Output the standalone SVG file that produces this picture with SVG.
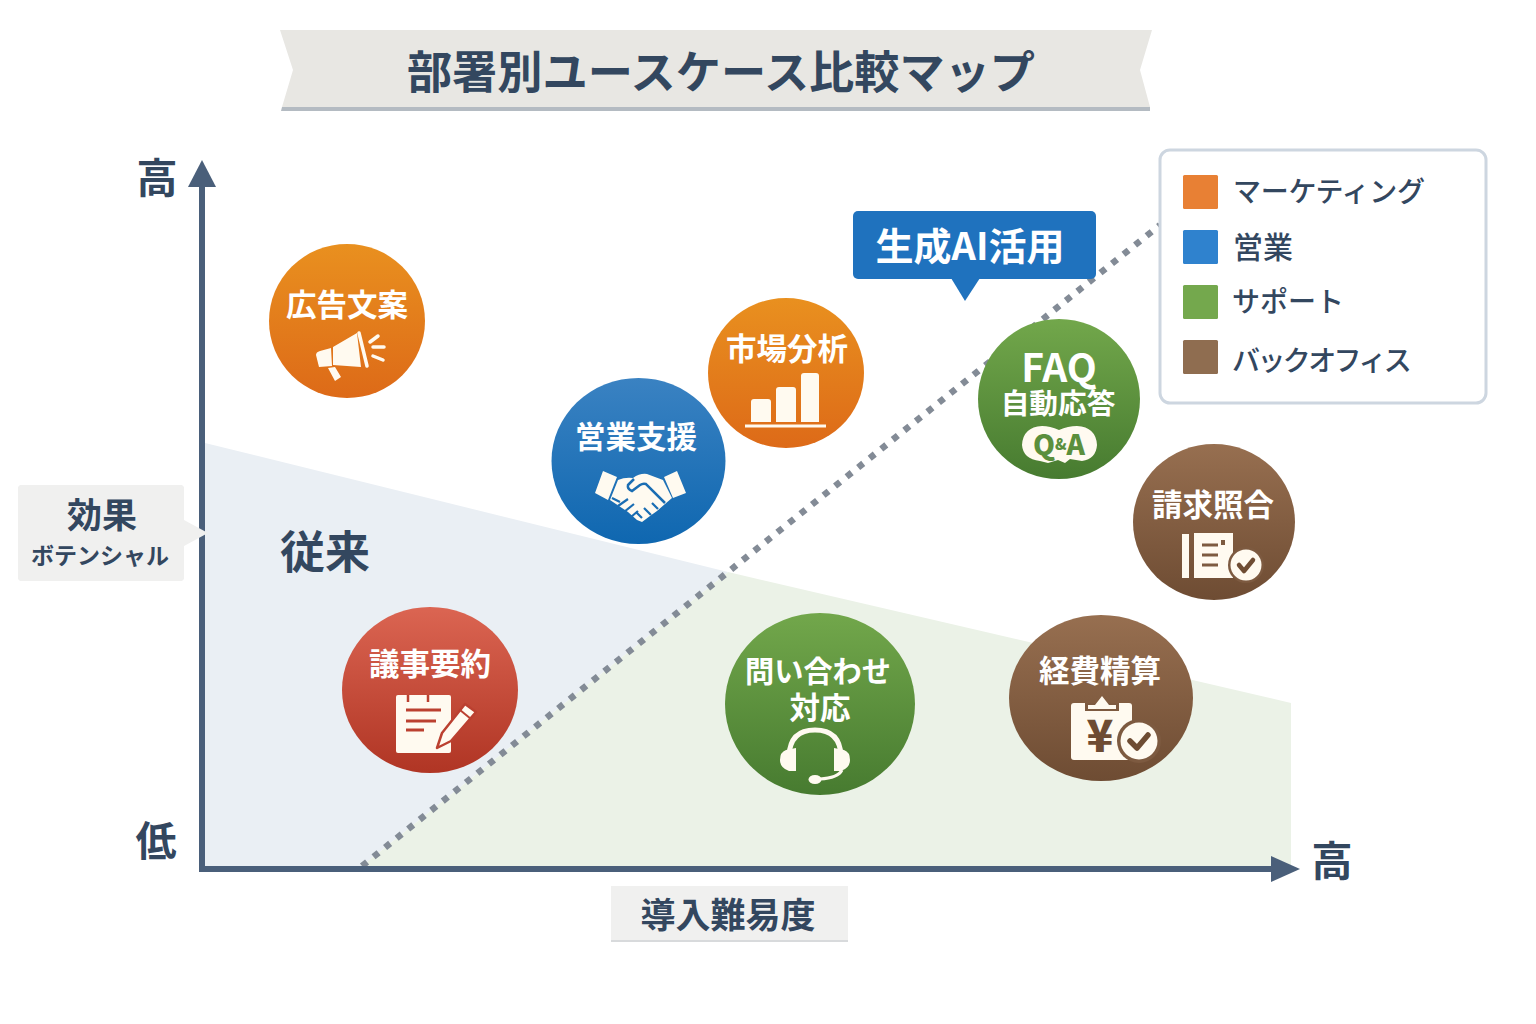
<svg xmlns="http://www.w3.org/2000/svg" width="1536" height="1024" viewBox="0 0 1536 1024">
<style>
text{font-family:"Noto Sans CJK JP","Noto Sans",sans-serif;text-anchor:middle;dominant-baseline:central}
.d{fill:#33475f;font-weight:700}
.w{fill:#fff;font-weight:700;font-size:30.500px}
.lg{fill:#33475f;font-weight:500;font-size:28px;text-anchor:start}
.ic{fill:#fffaf0}
.ax{stroke:#4a5f7a;stroke-width:6;fill:none}
</style>
<defs>
<linearGradient id="go" x1="0" y1="0" x2="0" y2="1"><stop offset="0" stop-color="#e9901f"/><stop offset="1" stop-color="#dd6a18"/></linearGradient>
<linearGradient id="gb" x1="0" y1="0" x2="0" y2="1"><stop offset="0" stop-color="#3a82c2"/><stop offset="1" stop-color="#0f67b0"/></linearGradient>
<linearGradient id="gg" x1="0" y1="0" x2="0" y2="1"><stop offset="0" stop-color="#72a74b"/><stop offset="1" stop-color="#477b30"/></linearGradient>
<linearGradient id="gn" x1="0" y1="0" x2="0" y2="1"><stop offset="0" stop-color="#976f50"/><stop offset="1" stop-color="#6e4c33"/></linearGradient>
<linearGradient id="gr" x1="0" y1="0" x2="0" y2="1"><stop offset="0" stop-color="#db6552"/><stop offset="1" stop-color="#b03524"/></linearGradient>
</defs>
<rect width="1536" height="1024" fill="#fff"/>
<g id="title">
<polygon points="282,107 1150,107 1150,111 281,111" fill="#b4bbc2"/>
<polygon points="280,30 1152,30 1140,70 1150,107 282,107 293,70" fill="#e8e7e3"/>
<text x="721" y="69" class="d" font-size="45.200">部署別ユースケース比較マップ</text>
</g>
<g id="regions">
<polygon points="205,443 728,572 362,866 205,866" fill="#eaeff4"/>
<polygon points="728,572 1291,703 1291,866 362,866" fill="#ebf2e7"/>
</g>
<g id="connectors">
<line x1="362" y1="866" x2="1160" y2="225" stroke="#838b96" stroke-width="6.500" stroke-dasharray="6.500 8.300"/>
<line class="ax" x1="202" y1="185" x2="202" y2="872"/>
<line class="ax" x1="199" y1="869" x2="1274" y2="869"/>
<polygon points="188,187 216,187 202,160" fill="#4a5f7a"/>
<polygon points="1271,856 1300,869 1271,882" fill="#4a5f7a"/>
</g>
<g id="axis-labels">
<text x="157" y="175" class="d" font-size="41">高</text>
<text x="156" y="838" class="d" font-size="41">低</text>
<text x="1332" y="858" class="d" font-size="41">高</text>
<polygon points="18,487 20,485 182,485 184,487 184,520 208,533 184,546 184,579 182,581 20,581 18,579" fill="#f0f0ef"/>
<text x="102" y="512" class="d" font-size="35">効果</text>
<text x="100" y="554" class="d" font-size="23">ボテンシャル</text>
<text x="325" y="549" class="d" font-size="45">従来</text>
<rect x="611" y="886" width="237" height="56" fill="#f0f0ef"/>
<rect x="611" y="940" width="237" height="2" fill="#d8dadc"/>
<text x="728" y="912" class="d" font-size="35">導入難易度</text>
</g>
<g id="callout">
<polygon points="951,278 965,301 980,278" fill="#1f72be"/>
<rect x="853" y="211" width="243" height="68" rx="5" fill="#1f72be"/>
<text x="970" y="243" fill="#fff" font-weight="700" font-size="38">生成AI活用</text>
</g>
<g id="node-koukoku">
<ellipse cx="347" cy="321" rx="78" ry="77" fill="url(#go)"/>
<text x="347" y="303" class="w">広告文案</text>
<path class="ic" d="M333,347 L357,333 L361,367 L333,365 Z M316,355 Q316,352 320,351 L331,348 L332,366 L319,367 Z M328,368 L335,367 L341,377 L335,381 Z"/>
<path d="M359,333 L367,366 M370,342 L378,336 M373,347 L384,347 M373,356 L383,360" stroke="#fffaf0" stroke-width="3.500" fill="none" stroke-linecap="round"/>
</g>
<g id="node-shijou">
<ellipse cx="786" cy="373" rx="78" ry="75" fill="url(#go)"/>
<text x="787" y="347" class="w">市場分析</text>
<path class="ic" d="M751,422 V402 Q751,399 754,399 H768 Q771,399 771,402 V422 Z M776,422 V390 Q776,387 779,387 H793 Q796,387 796,390 V422 Z M801,422 V376 Q801,373 804,373 H816 Q819,373 819,376 V422 Z"/>
<rect class="ic" x="745" y="424.500" width="81" height="3"/>
</g>
<g id="node-eigyou">
<ellipse cx="638.500" cy="461" rx="87" ry="83" fill="url(#gb)"/>
<text x="636" y="435" class="w">営業支援</text>
<path class="ic" d="M603,471 L617,477 L608,500 L595,493 Z M664,477 L677,471 L686,493 L673,498 Z"/>
<path class="ic" d="M618,480 Q625,477 633,478 Q640,473 647,474 L663,480 L672,498 L665,504 L657,511 L650,516 L642,522 L637,520 L628,512 L610,500 Z"/>
<path d="M634,479 L628,485 Q627,489 632,491 L640,485 Q643,483 646,484 L665,503" stroke="#1a6db3" stroke-width="2.500" fill="none"/>
<path d="M652,503 L658,509 M644,508 L651,515 M636,512 L642,518" stroke="#1a6db3" stroke-width="2.200" fill="none"/>
<path d="M612,498 L620,502 M618,506 L628,499 M624,512 L634,504 M631,517 L638,511" stroke="#1a6db3" stroke-width="2.200" fill="none"/>
</g>
<g id="node-faq">
<ellipse cx="1059" cy="399" rx="81" ry="80" fill="url(#gg)"/>
<text x="1059" y="365" fill="#fff" font-weight="700" font-size="39">FAQ</text>
<text x="1058" y="401" class="w" style="font-size:28.700px">自動応答</text>
<path class="ic" d="M1022,445 Q1023,427 1042,426 Q1050,426 1059,430 Q1068,426 1077,426 Q1096,427 1097,445 Q1096,459 1082,461 L1070,459 L1065,463 L1058,460 L1048,463 L1040,461 Q1023,459 1022,445 Z"/>
<text x="1059" y="443" fill="#5b8f3d" font-weight="900" font-size="28">Q<tspan font-size="15">&amp;</tspan>A</text>
</g>
<g id="node-seikyuu">
<ellipse cx="1214" cy="522" rx="81" ry="78" fill="url(#gn)"/>
<text x="1213" y="503" class="w">請求照合</text>
<path class="ic" d="M1182,534 H1189 V578 H1182 Z M1194,533 H1233 V578 H1194 Z"/>
<path d="M1202,545 H1218 M1202,555 H1218 M1202,565 H1218" stroke="#7d5a40" stroke-width="3" fill="none"/>
<rect x="1221" y="540" width="4" height="5" fill="#7d5a40"/>
<circle cx="1246" cy="565" r="18" fill="#7d5a40"/><circle cx="1246" cy="565" r="15.500" class="ic"/>
<path d="M1239,565 L1244,571 L1253,560" stroke="#6e4c33" stroke-width="4.500" fill="none" stroke-linecap="round" stroke-linejoin="round"/>
</g>
<g id="node-gijiroku">
<ellipse cx="430" cy="690" rx="88" ry="83" fill="url(#gr)"/>
<text x="430" y="662" class="w">議事要約</text>
<rect class="ic" x="396" y="695" width="55" height="58" rx="2"/>
<path d="M408,695 V702 M428,695 V702" stroke="#bb4030" stroke-width="2.500" fill="none"/>
<path d="M406,710 H441 M406,721 H436 M406,730 H424" stroke="#bb4030" stroke-width="3" fill="none"/>
<path class="ic" stroke="#bb4030" stroke-width="2.500" stroke-linejoin="round" d="M437,748 L442,733 L465,704 L476,712 L451,741 Z"/>
<path d="M460,710 L471,719" stroke="#bb4030" stroke-width="2" fill="none"/>
</g>
<g id="node-toiawase">
<ellipse cx="820" cy="704" rx="95" ry="91" fill="url(#gg)"/>
<text x="818" y="669" class="w" style="font-size:29.200px">問い合わせ</text>
<text x="820" y="706" class="w">対応</text>
<path d="M789,756 Q790,730 815,730 Q840,730 841,756" stroke="#fffaf0" stroke-width="5" fill="none"/>
<path class="ic" d="M786,750 L796,748 V771 L789,771 Q780,768 780,760 Q780,752 786,750 Z M844,750 L834,748 V771 L841,771 Q850,768 850,760 Q850,752 844,750 Z"/>
<path d="M842,770 Q838,778 820,779" stroke="#fffaf0" stroke-width="3" fill="none"/>
<ellipse class="ic" cx="815" cy="779.500" rx="6.500" ry="4.500"/>
</g>
<g id="node-keihi">
<ellipse cx="1101" cy="698" rx="92" ry="83" fill="url(#gn)"/>
<text x="1100" y="669" class="w">経費精算</text>
<rect class="ic" x="1071" y="703" width="61" height="57" rx="3"/>
<path fill="#7d5a40" d="M1085,703 H1119 V711 H1085 Z"/>
<path class="ic" d="M1088,705 H1095 L1102,696 L1109,705 H1116 V709 H1088 Z"/>
<text x="1100" y="733" fill="#6e4c33" font-weight="900" font-size="44">¥</text>
<circle cx="1139" cy="741" r="22" fill="#7d5a40"/><circle cx="1139" cy="741" r="18.500" class="ic"/>
<path d="M1130,741 L1137,748 L1148,735" stroke="#6e4c33" stroke-width="5.500" fill="none" stroke-linecap="round" stroke-linejoin="round"/>
</g>
<g id="legend">
<rect x="1160" y="150" width="326" height="253" rx="10" fill="#fff" stroke="#cdd6e0" stroke-width="3"/>
<rect x="1183" y="175" width="35" height="34" rx="1.500" fill="#e88034"/>
<rect x="1183" y="230" width="35" height="34" rx="1.500" fill="#2f82ce"/>
<rect x="1183" y="285" width="35" height="34" rx="1.500" fill="#74a84d"/>
<rect x="1183" y="340" width="35" height="34" rx="1.500" fill="#8f6d50"/>
<text x="1233" y="190" class="lg" letter-spacing="-0.300">マーケティング</text>
<text x="1233" y="245" class="lg" style="font-size:30px">営業</text>
<text x="1232" y="300" class="lg">サポート</text>
<text x="1232" y="359" class="lg" letter-spacing="-2.600">バックオフィス</text>
</g>
</svg>
